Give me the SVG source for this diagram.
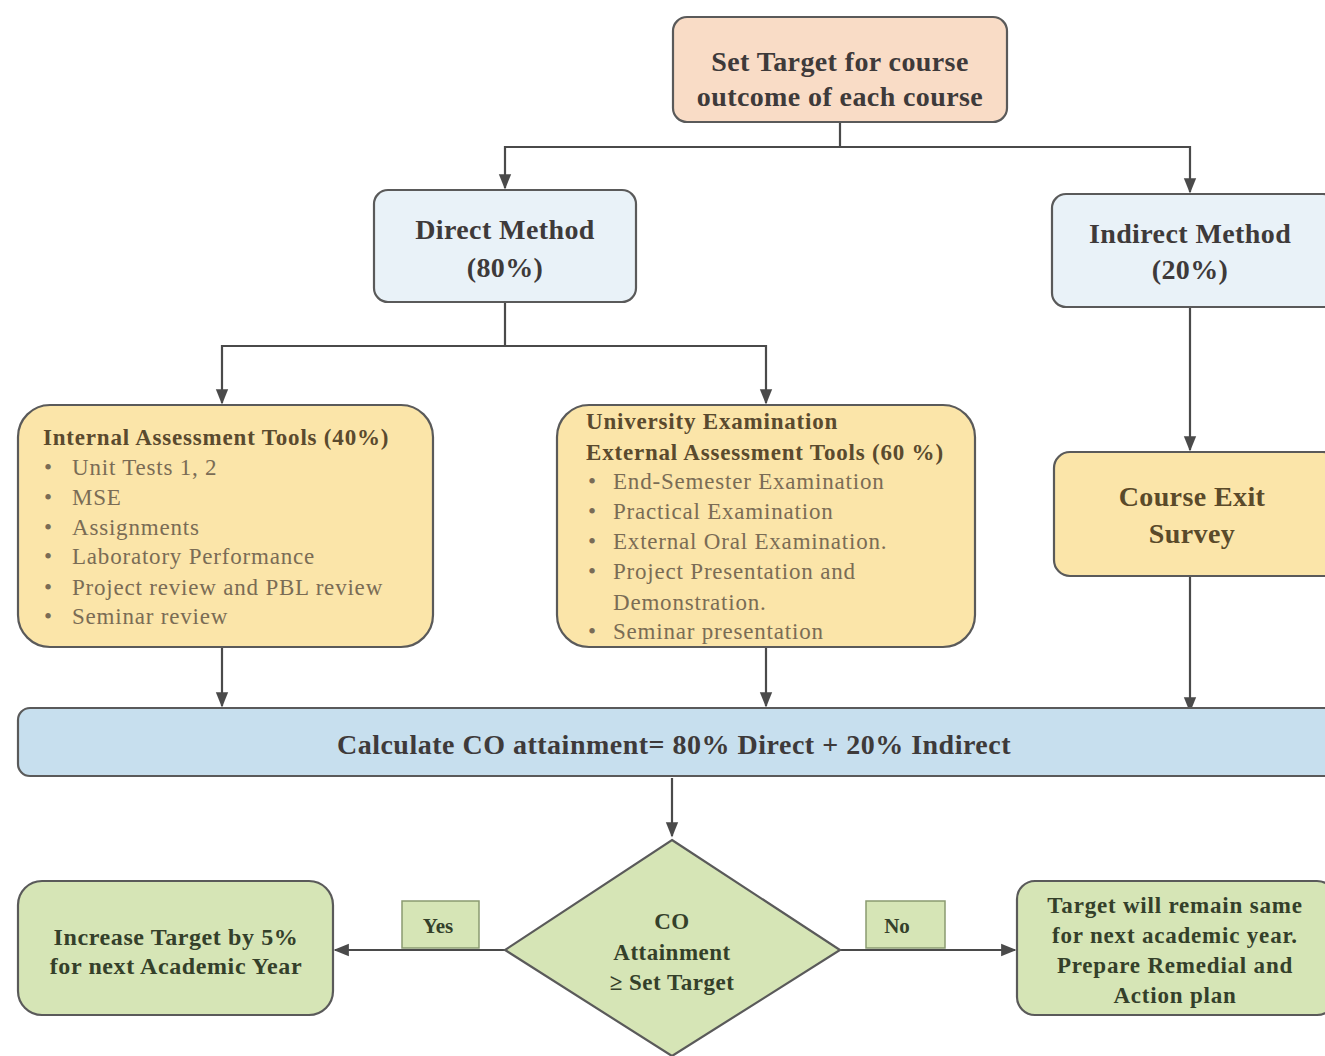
<svg xmlns="http://www.w3.org/2000/svg" width="1325" height="1056" viewBox="0 0 1325 1056">
<defs>
<marker id="arr" viewBox="0 0 10 10" refX="9" refY="5" markerWidth="7" markerHeight="7" orient="auto-start-reverse">
<path d="M0,1 L10,5 L0,9 z" fill="#4a4a4a"/>
</marker>
<style>
.box{stroke:#5a5a5a;stroke-width:2.2}
.peach{fill:#f9dcc6}
.blue{fill:#e9f2f8}
.yellow{fill:#fbe5a9}
.calc{fill:#c7dfee}
.green{fill:#d6e5b6}
.t{font-family:"Liberation Serif",serif;font-weight:bold;text-anchor:middle}
.L{font-size:28px;letter-spacing:0.4px}
.tb{fill:#3e3a3a}
.tg{fill:#34402a}
.ty{fill:#5a4a2a}
.h{font-family:"Liberation Serif",serif;font-weight:bold;font-size:23px;letter-spacing:0.8px;fill:#5a4a2e}
.li{font-family:"Liberation Serif",serif;font-size:23px;letter-spacing:0.8px;fill:#7a6c55}
.c{stroke:#4a4a4a;stroke-width:2.2;fill:none}
</style>
</defs>
<rect width="1325" height="1056" fill="#ffffff"/>
<g id="connectors">
<path class="c" d="M840,122 V147 H505 V188" marker-end="url(#arr)"/>
<path class="c" d="M840,147 H1190 V192" marker-end="url(#arr)"/>
<path class="c" d="M505,302 V346 H222 V403" marker-end="url(#arr)"/>
<path class="c" d="M505,346 H766 V403" marker-end="url(#arr)"/>
<path class="c" d="M1190,307 V450" marker-end="url(#arr)"/>
<path class="c" d="M222,647 V706" marker-end="url(#arr)"/>
<path class="c" d="M766,647 V706" marker-end="url(#arr)"/>
<path class="c" d="M1190,576 V711" marker-end="url(#arr)"/>
<path class="c" d="M672,778 V836" marker-end="url(#arr)"/>
<path class="c" d="M505,950 H335" marker-end="url(#arr)"/>
<path class="c" d="M840,950 H1015" marker-end="url(#arr)"/>
</g>
<g id="target">
<rect class="box peach" x="673" y="17" width="334" height="105" rx="14"/>
<text class="t tb L" x="840" y="71">Set Target for course</text>
<text class="t tb L" x="840" y="106">outcome of each course</text>
</g>
<g id="direct">
<rect class="box blue" x="374" y="190" width="262" height="112" rx="14"/>
<text class="t tb L" x="505" y="239">Direct Method</text>
<text class="t tb L" x="505" y="277">(80%)</text>
</g>
<g id="indirect">
<rect class="box blue" x="1052" y="194" width="285" height="113" rx="14"/>
<text class="t tb L" x="1190" y="243">Indirect Method</text>
<text class="t tb L" x="1190" y="279">(20%)</text>
</g>
<g id="internal">
<rect class="box yellow" x="18" y="405" width="415" height="242" rx="32"/>
<text class="h" x="43" y="445">Internal Assessment Tools (40%)</text>
<g class="li">
<text x="44" y="475">•</text><text x="72" y="475">Unit Tests 1, 2</text>
<text x="44" y="505">•</text><text x="72" y="505">MSE</text>
<text x="44" y="535">•</text><text x="72" y="535">Assignments</text>
<text x="44" y="564">•</text><text x="72" y="564">Laboratory Performance</text>
<text x="44" y="595">•</text><text x="72" y="595">Project review and PBL review</text>
<text x="44" y="624">•</text><text x="72" y="624">Seminar review</text>
</g>
</g>
<g id="university">
<rect class="box yellow" x="557" y="405" width="418" height="242" rx="32"/>
<text class="h" x="586" y="429">University Examination</text>
<text class="h" x="586" y="460">External Assessment Tools (60 %)</text>
<g class="li">
<text x="588" y="489">•</text><text x="613" y="489">End-Semester Examination</text>
<text x="588" y="519">•</text><text x="613" y="519">Practical Examination</text>
<text x="588" y="549">•</text><text x="613" y="549">External Oral Examination.</text>
<text x="588" y="579">•</text><text x="613" y="579">Project Presentation and</text>
<text x="613" y="610">Demonstration.</text>
<text x="588" y="639">•</text><text x="613" y="639">Seminar presentation</text>
</g>
</g>
<g id="exit">
<rect class="box yellow" x="1054" y="452" width="285" height="124" rx="16"/>
<text class="t ty L" x="1192" y="506">Course Exit</text>
<text class="t ty L" x="1192" y="543">Survey</text>
</g>
<g id="calculate">
<rect class="box calc" x="18" y="708" width="1320" height="68" rx="12"/>
<text class="t tb" font-size="28" letter-spacing="0.5" x="674" y="754">Calculate CO attainment= 80% Direct + 20% Indirect</text>
</g>
<g id="decision">
<polygon class="box green" points="672,840 840,950 672,1056 505,950"/>
<text class="t tg" font-size="23" letter-spacing="0.5" x="672" y="929">CO</text>
<text class="t tg" font-size="23" letter-spacing="0.5" x="672" y="960">Attainment</text>
<text class="t tg" font-size="23" letter-spacing="0.5" x="672" y="990">≥ Set Target</text>
</g>
<g id="yes">
<rect class="green" x="402" y="901" width="77" height="47" stroke="#8a9a70" stroke-width="1.5"/>
<text class="t tg" font-size="21" x="438" y="933">Yes</text>
</g>
<g id="no">
<rect class="green" x="866" y="901" width="79" height="47" stroke="#8a9a70" stroke-width="1.5"/>
<text class="t tg" font-size="21" x="897" y="933">No</text>
</g>
<g id="increase">
<rect class="box green" x="18" y="881" width="315" height="134" rx="24"/>
<text class="t tg" font-size="24" letter-spacing="0.6" x="176" y="945">Increase Target by 5%</text>
<text class="t tg" font-size="24" letter-spacing="0.6" x="176" y="974">for next Academic Year</text>
</g>
<g id="remain">
<rect class="box green" x="1017" y="881" width="318" height="134" rx="18"/>
<text class="t tg" font-size="23" letter-spacing="0.8" x="1175" y="913">Target will remain same</text>
<text class="t tg" font-size="23" letter-spacing="0.8" x="1175" y="943">for next academic year.</text>
<text class="t tg" font-size="23" letter-spacing="0.8" x="1175" y="973">Prepare Remedial and</text>
<text class="t tg" font-size="23" letter-spacing="0.8" x="1175" y="1003">Action plan</text>
</g>
</svg>
